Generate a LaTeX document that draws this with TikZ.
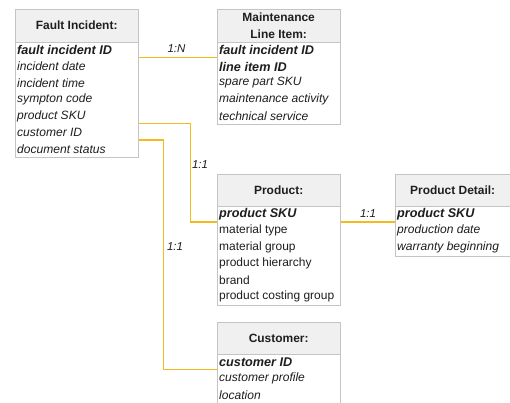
\documentclass[tikz,border=0pt]{standalone}
\usepackage{fontspec}
\setmainfont{Liberation Sans}
\usetikzlibrary{calc}
\definecolor{hdr}{HTML}{F0F0F0}
\definecolor{brd}{HTML}{C4C4C4}
\definecolor{lnk}{HTML}{F4BA1E}
\definecolor{txt}{HTML}{1E1E1E}
\tikzset{
  hdrbox/.style={draw=brd, fill=hdr, line width=1.3bp, anchor=north west, inner sep=0pt,
    text=txt, font=\fontsize{12}{16.5}\selectfont\bfseries, align=center},
  bodybox/.style={draw=brd, fill=white, line width=1.3bp, anchor=north west, inner sep=0pt},
  row/.style={anchor=west, inner sep=0pt, text=txt, font=\fontsize{12}{14}\selectfont},
  key/.style={row, font=\fontsize{12.7}{14}\selectfont\bfseries\itshape},
  att/.style={row, font=\fontsize{12.1}{14}\selectfont\itshape},
  conn/.style={draw=lnk, line width=1.7bp},
  card/.style={text=txt, font=\fontsize{11.5}{13}\selectfont\itshape, inner sep=0pt}
}
\begin{document}
\begin{tikzpicture}[x=1bp, y=-1bp]
\useasboundingbox[fill=white] (0,0) rectangle (510,402);

% Fault Incident
\node[hdrbox, minimum width=123bp, minimum height=33bp] (fih) at (14.5,8.5) {Fault Incident:};
\node[bodybox, minimum width=123bp, minimum height=115bp] (fib) at (14.5,41.5) {};
\node[key] (fi1) at (17,50) {fault incident ID};
\node[att] (fi2) at (17,66.5) {incident date};
\node[att] (fi3) at (17,83) {incident time};
\node[att] (fi4) at (17,99.5) {sympton code};
\node[att] (fi5) at (17,116) {product SKU};
\node[att] (fi6) at (17,132.5) {customer ID};
\node[att] (fi7) at (17,149) {document status};

% Maintenance Line Item
\node[hdrbox, minimum width=123bp, minimum height=33bp] (mlh) at (216.5,8.5) {Maintenance\\Line Item:};
\node[bodybox, minimum width=123bp, minimum height=82bp] (mlb) at (216.5,41.5) {};
\node[key] (ml1) at (219,50) {fault incident ID};
\node[key] (ml2) at (219,66.5) {line item ID};
\node[att] (ml3) at (219,83) {spare part SKU};
\node[att] (ml4) at (219,99.5) {maintenance activity};
\node[att] (ml5) at (219,116) {technical service};

% Product
\node[hdrbox, minimum width=123bp, minimum height=32bp] (ph) at (216.5,173.5) {Product:};
\node[bodybox, minimum width=123bp, minimum height=99bp] (pb) at (216.5,205.5) {};
\node[key] (p1) at (219,214) {product SKU};
\node[row] (p2) at (219,230.5) {material type};
\node[row] (p3) at (219,247) {material group};
\node[row] (p4) at (219,263.5) {product hierarchy};
\node[row] (p5) at (219,280) {brand};
\node[row] (p6) at (219,296.5) {product costing group};

% Product Detail
\node[hdrbox, minimum width=115bp, minimum height=32bp] (pdh) at (394.5,173.5) {Product Detail:};
\node[bodybox, minimum width=115bp, minimum height=50bp] (pdb) at (394.5,205.5) {};
\node[key] (pd1) at (397,214) {product SKU};
\node[att] (pd2) at (397,230.5) {production date};
\node[att] (pd3) at (397,247) {warranty beginning};

% Customer
\node[hdrbox, minimum width=123bp, minimum height=32bp] (ch) at (216.5,321.5) {Customer:};
\node[bodybox, minimum width=123bp, minimum height=60bp] (cb) at (216.5,353.5) {};
\node[key] (c1) at (219,362) {customer ID};
\node[att] (c2) at (219,378.5) {customer profile};
\node[att] (c3) at (219,395) {location};

% connectors
\coordinate (xa) at (190.5,170);
\coordinate (xb) at (163.5,250);
\draw[conn] ($(fib.east |- fi1)+(0,7.5)$) -- ($(mlb.west |- fi1)+(0,7.5)$);
\draw[conn] ($(fib.east |- fi5)+(0,7.5)$) -| (xa) |- ($(pb.west |- p1)+(0,8)$);
\draw[conn] ($(fib.east |- fi6)+(0,7.5)$) -| (xb) |- ($(cb.west |- c1)+(0,7.5)$);
\draw[conn] ($(pb.east |- p1)+(0,8)$) -- ($(pdb.west |- pd1)+(0,8)$);

% cardinalities
\node[card] (k1) at (176.5,49) {1:N};
\node[card] (k2) at (200,165) {1:1};
\node[card] (k3) at (175,247) {1:1};
\node[card] (k4) at (368,214) {1:1};
\end{tikzpicture}
\end{document}
